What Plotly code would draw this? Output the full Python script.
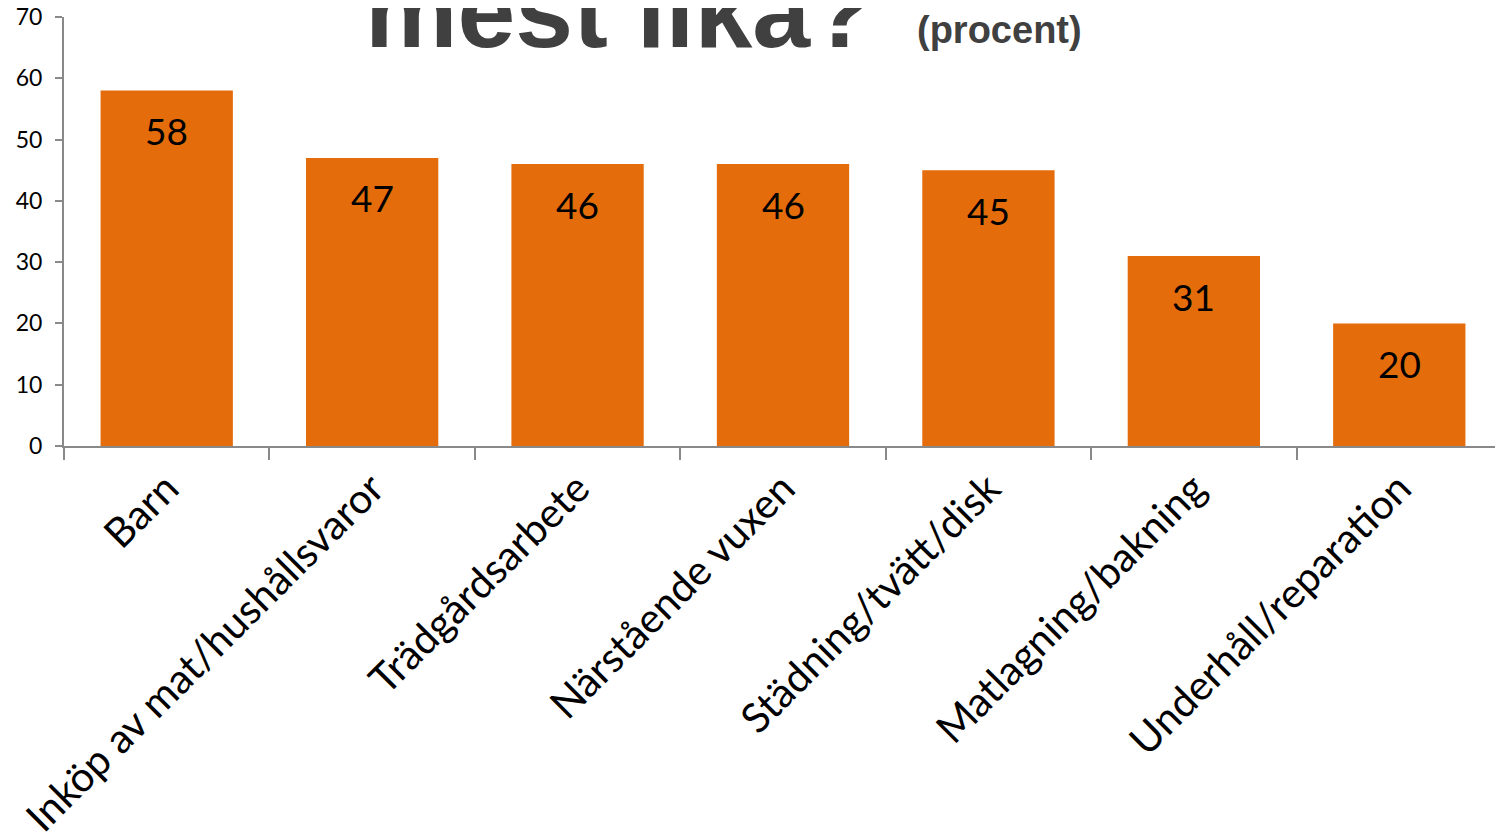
import plotly.graph_objects as go

categories = ["Barn", "Inköp av mat/hushållsvaror", "Trädgårdsarbete", "Närstående vuxen",
              "Städning/tvätt/disk", "Matlagning/bakning", "Underhåll/reparation"]
values = [58, 47, 46, 46, 45, 31, 20]
title_main = "mest lika?"
title_sub = "(procent)"

fig = go.Figure(go.Bar(
    x=categories, y=values,
    marker=dict(color="#E46C0A", line=dict(width=0)),
))

label_annotations = [
    dict(x=c, y=v, xref="x", yref="y", text=str(v), showarrow=False,
         yanchor="middle", yshift=-40,
         font=dict(family="Lato, Open Sans, sans-serif", size=37, color="black"))
    for c, v in zip(categories, values)
]

fig.update_layout(
    width=1503, height=836,
    margin=dict(l=56, r=9, t=9, b=398, autoexpand=False),
    paper_bgcolor="white", plot_bgcolor="white",
    bargap=0.356, showlegend=False,
    font=dict(family="Lato, Open Sans, sans-serif", color="black"),
    xaxis=dict(
        showline=True, linecolor="#898989", linewidth=2,
        ticks="outside", tickson="boundaries", ticklen=12, tickcolor="#898989", tickwidth=2,
        tickangle=-45, tickfont=dict(size=41, color="black"),
        showgrid=False, automargin=False, ticklabeloverflow="allow",
    ),
    yaxis=dict(
        range=[0, 70], dtick=10,
        showline=True, linecolor="#898989", linewidth=2,
        ticks="outside", ticklen=7, tickcolor="#898989", tickwidth=2,
        tickfont=dict(size=23, color="black"), ticklabelstandoff=8,
        showgrid=False, zeroline=False, automargin=False, ticklabeloverflow="allow",
    ),
    annotations=label_annotations + [
        dict(text="<b>" + title_main + "</b>", xref="paper", yref="paper",
             x=0.208, y=0.875, xanchor="left", yanchor="bottom", showarrow=False,
             font=dict(family="Liberation Sans, Arial, sans-serif", size=104, color="#404040")),
        dict(text="<b>" + title_sub + "</b>", xref="paper", yref="paper",
             x=0.592, y=0.916, xanchor="left", yanchor="bottom", showarrow=False,
             font=dict(family="Liberation Sans, Arial, sans-serif", size=38, color="#404040")),
    ],
)

fig.write_html("out.html")
